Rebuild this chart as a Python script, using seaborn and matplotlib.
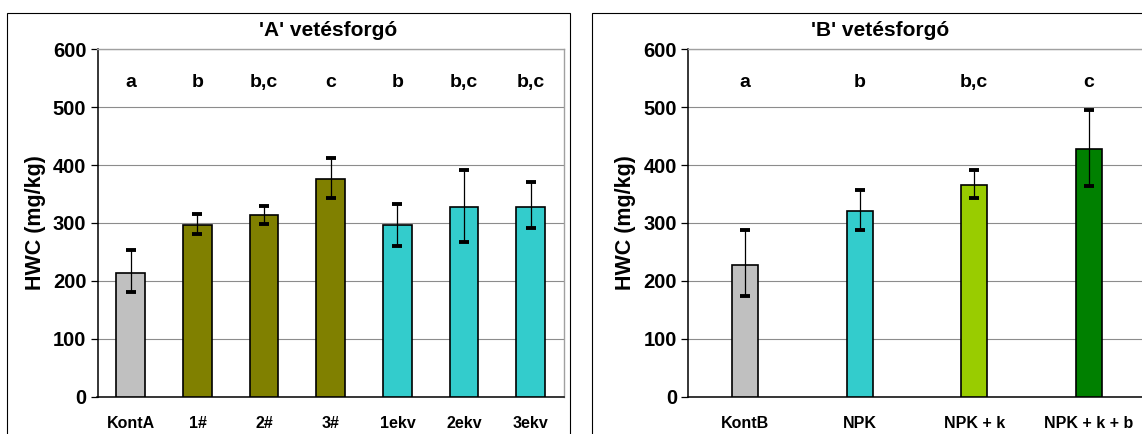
import numpy as np
import pandas as pd
import seaborn as sns
import matplotlib.pyplot as plt
from matplotlib.patches import Rectangle

# 'A' crop rotation
cats_a = ['KontA', '1#', '2#', '3#', '1ekv', '2ekv', '3ekv']
hwc_a = [213, 296, 314, 376, 296, 328, 328]
err_lo_a = [181, 281, 298, 343, 261, 268, 291]
err_hi_a = [253, 315, 330, 412, 333, 392, 371]
sig_a = ['a', 'b', 'b,c', 'c', 'b', 'b,c', 'b,c']
colors_a = ['#C0C0C0', '#808000', '#808000', '#808000', '#33CCCC', '#33CCCC', '#33CCCC']

# 'B' crop rotation
cats_b = ['KontB', 'NPK', 'NPK + k', 'NPK + k + b']
hwc_b = [227, 321, 366, 428]
err_lo_b = [174, 288, 343, 364]
err_hi_b = [288, 357, 392, 496]
sig_b = ['a', 'b', 'b,c', 'c']
colors_b = ['#C0C0C0', '#33CCCC', '#99CC00', '#008000']

sns.set_style("white")
plt.rcParams['font.family'] = ['Liberation Sans', 'DejaVu Sans']
plt.rcParams['font.weight'] = 'bold'
for k in ['text.color', 'axes.labelcolor', 'xtick.color', 'ytick.color']:
    plt.rcParams[k] = 'black'

W, H = 1142, 434
fig = plt.figure(figsize=(W / 100, H / 100), dpi=100)

# panel frames
fig.patches.append(Rectangle((7 / W, -0.1), (570 - 7) / W, 0.1 + (H - 12.7) / H,
                             transform=fig.transFigure, fill=False, ec='black', lw=0.8))
fig.patches.append(Rectangle((592 / W, -0.1), 0.6, 0.1 + (H - 12.7) / H,
                             transform=fig.transFigure, fill=False, ec='black', lw=0.8))

y0 = (H - 396.7) / H
hgt = 347.4 / H
ax_a = fig.add_axes([97.5 / W, y0, 466.5 / W, hgt])
ax_b = fig.add_axes([688 / W, y0, 458 / W, hgt])


def draw(ax, cats, vals, lo, hi, sig, colors, width, title, title_x):
    df = pd.DataFrame({'cat': cats, 'val': vals})
    sns.barplot(data=df, x='cat', y='val', hue='cat', palette=colors, legend=False,
                saturation=1, width=width, edgecolor='black', linewidth=1.2, ax=ax, zorder=3)
    xs = np.arange(len(cats))
    vals = np.array(vals)
    yerr = [vals - np.array(lo), np.array(hi) - vals]
    ax.errorbar(xs, vals, yerr=yerr, fmt='none', ecolor='black', elinewidth=0.9,
                capsize=3.5, capthick=2.8, zorder=4)
    ax.set_ylim(0, 600)
    ax.set_xlim(-0.5, len(cats) - 0.5)
    ax.set_yticks(range(0, 601, 100))
    ax.set_yticklabels([str(v) for v in range(0, 601, 100)], fontsize=14.5, fontweight='bold')
    ax.set_xticks(xs)
    ax.set_xticklabels(cats, fontsize=11.5, fontweight='bold')
    ax.set_xticks(np.arange(len(cats) + 1) - 0.5, minor=True)
    ax.tick_params(axis='x', which='major', length=0, pad=14)
    ax.tick_params(axis='x', which='minor', direction='inout', length=10, width=0.9, color='black')
    ax.tick_params(axis='y', direction='out', length=5, width=0.9, color='black', left=True, pad=3)
    ax.set_xlabel('')
    ax.set_ylabel('HWC (mg/kg)', fontsize=15.5, fontweight='bold', labelpad=5)
    ax.yaxis.grid(True, color='#8C8C8C', lw=0.8, zorder=0)
    ax.set_axisbelow(True)
    for side in ['left', 'bottom']:
        ax.spines[side].set_color('black')
        ax.spines[side].set_linewidth(1.1)
    for side in ['top', 'right']:
        ax.spines[side].set_color('#A0A0A0')
        ax.spines[side].set_linewidth(1.0)
    for x, s in zip(xs, sig):
        ax.text(x, 543, s, ha='center', va='center', fontsize=14, fontweight='bold')
    fig.text(title_x / W, (H - 31) / H, title, ha='center', va='center',
             fontsize=15, fontweight='bold')


draw(ax_a, cats_a, hwc_a, err_lo_a, err_hi_a, sig_a, colors_a, 0.43, "'A' vetésforgó", 328)
draw(ax_b, cats_b, hwc_b, err_lo_b, err_hi_b, sig_b, colors_b, 0.23, "'B' vetésforgó", 880)

fig.savefig('out.png', dpi=100)
